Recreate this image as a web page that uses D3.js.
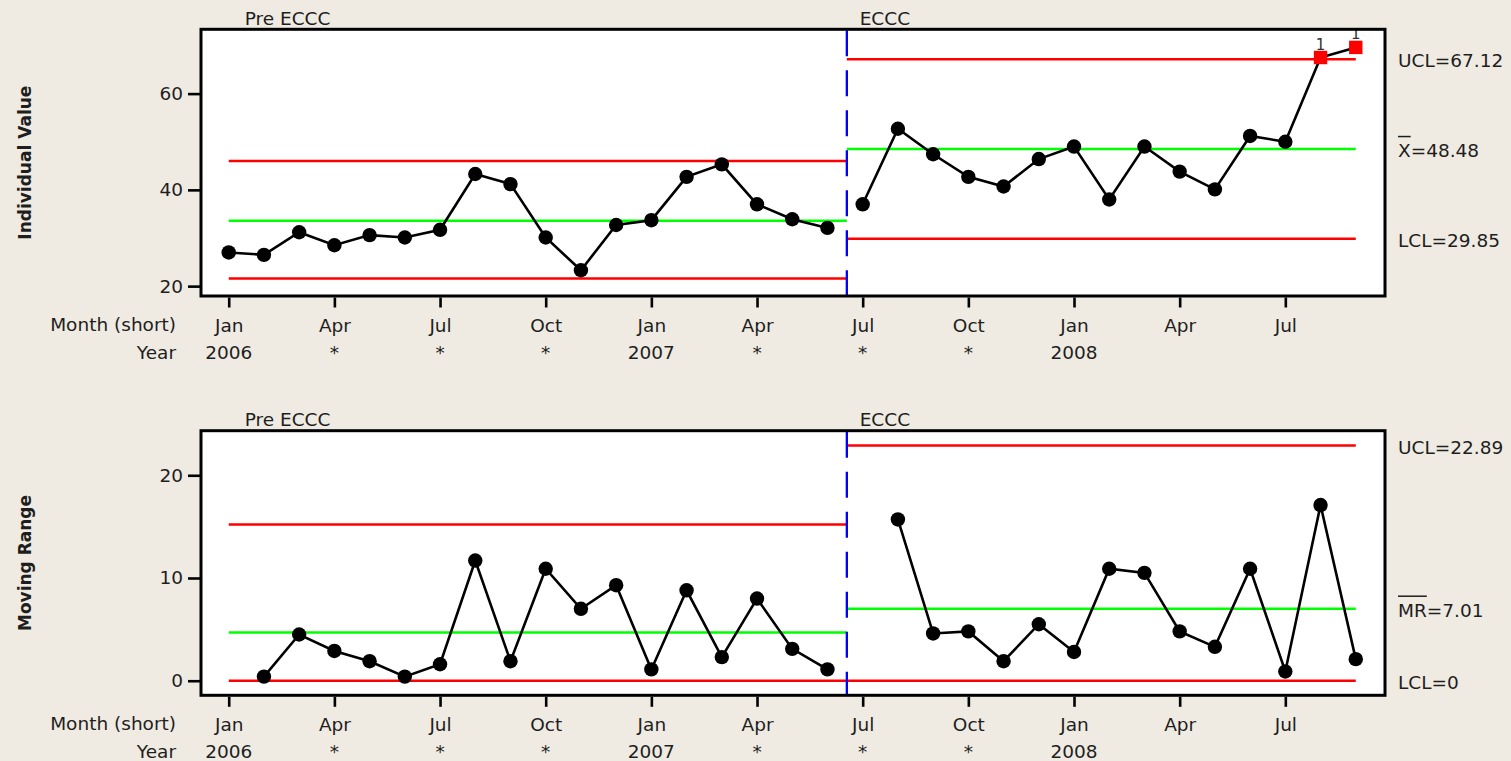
<!DOCTYPE html>
<html>
<head>
<meta charset="utf-8">
<script src="https://cdn.jsdelivr.net/npm/d3@7"></script>
<style>
  body { margin: 0; background: #efebe2; }
  text { font-family: 'DejaVu Sans', sans-serif; fill: #1e1e1e; }
</style>
</head>
<body>
<div id="chart"></div>
<script>
// Data
const monthNames = [
  'Jan', 'Feb', 'Mar', 'Apr', 'May', 'Jun', 'Jul', 'Aug', 'Sep', 'Oct', 'Nov', 'Dec',
  'Jan', 'Feb', 'Mar', 'Apr', 'May', 'Jun', 'Jul', 'Aug', 'Sep', 'Oct', 'Nov', 'Dec',
  'Jan', 'Feb', 'Mar', 'Apr', 'May', 'Jun', 'Jul', 'Aug', 'Sep'
]
const individual = [
  27.0, 26.5, 31.2, 28.5, 30.6, 30.1, 31.7, 43.3, 41.2, 30.1, 23.3, 32.7, 33.7, 42.7, 45.3, 37.0, 33.9, 32.1,
  37.0, 52.7, 47.4, 42.7, 40.7, 46.4, 49.0, 38.0, 49.0, 43.8, 40.1, 51.2, 50.0, 67.5, 69.6
]
const movingRange = [
  null, 0.4, 4.5, 2.9, 1.9, 0.4, 1.6, 11.7, 1.9, 10.9, 7.0, 9.3, 1.1, 8.8, 2.3, 8.0, 3.1, 1.1,
  null, 15.7, 4.6, 4.8, 1.9, 5.5, 2.8, 10.9, 10.5, 4.8, 3.3, 10.9, 0.9, 17.1, 2.1
]
const stageNames = ['Pre ECCC', 'ECCC']
const stageFirst = [1, 19]
const stageLast = [18, 33]
const iUCL = [46.0, 67.12]
const iCL = [33.6, 48.48]
const iLCL = [21.6, 29.85]
const mrUCL = [15.2, 22.89]
const mrCL = [4.69, 7.01]
const mrLCL = [0, 0]
const failedIndex = [32, 33]
const tickIndex = [1, 4, 7, 10, 13, 16, 19, 22, 25, 28, 31]
const tickYear = ['2006', '*', '*', '*', '2007', '*', '*', '*', '2008', '', '']

function draw() {
  const width = 1511
  const height = 761
  const fontSize = 18.5

  const svg = d3.select('#chart')
    .append('svg')
    .attr('width', width)
    .attr('height', height)

  const xScale = d3.scaleLinear()
    .domain([0.213, 33.83])
    .range([201, 1385])

  const divider = (stageLast[0] + stageFirst[1]) / 2 + 0.05

  const panels = [
    { id: 'i', values: individual, ucl: iUCL, cl: iCL, lcl: iLCL, top: 29.3, bottom: 296,
      domain: [17.95, 73.36], ticks: [20, 40, 60], title: 'Individual Value', centerName: 'X' },
    { id: 'mr', values: movingRange, ucl: mrUCL, cl: mrCL, lcl: mrLCL, top: 430.7, bottom: 695.3,
      domain: [-1.42, 24.34], ticks: [0, 10, 20], title: 'Moving Range', centerName: 'MR' }
  ]

  panels.forEach(p => {
    const yScale = d3.scaleLinear()
      .domain(p.domain)
      .range([p.bottom, p.top])

    const g = svg.append('g')
    const [left, right] = xScale.range()

    g.append('rect')
      .attr('x', left)
      .attr('y', p.top)
      .attr('width', right - left)
      .attr('height', p.bottom - p.top)
      .attr('fill', 'white')

    svg.append('clipPath')
      .attr('id', 'clip-' + p.id)
      .append('rect')
      .attr('x', left)
      .attr('y', p.top)
      .attr('width', right - left)
      .attr('height', p.bottom - p.top)

    const plot = g.append('g').attr('clip-path', `url(#clip-${p.id})`)

    // Control limits per stage
    stageNames.forEach((s, si) => {
      const x1 = si === 0 ? xScale(stageFirst[si]) : xScale(divider)
      const x2 = si === 0 ? xScale(divider) : xScale(stageLast[si])
      const lines = [
        { v: p.ucl[si], c: '#ff0000' },
        { v: p.cl[si], c: '#00ff00' },
        { v: p.lcl[si], c: '#ff0000' }
      ]
      plot.selectAll(null)
        .data(lines)
        .join('line')
        .attr('x1', x1)
        .attr('x2', x2)
        .attr('y1', d => yScale(d.v))
        .attr('y2', d => yScale(d.v))
        .attr('stroke', d => d.c)
        .attr('stroke-width', 2.5)
    })

    // Stage divider
    plot.append('line')
      .attr('x1', xScale(divider))
      .attr('x2', xScale(divider))
      .attr('y1', p.top + 1)
      .attr('y2', p.bottom)
      .attr('stroke', '#0000ff')
      .attr('stroke-width', 2.3)
      .attr('stroke-dasharray', '26,14')

    const points = p.values.map((v, i) => ({ idx: i + 1, v: v }))

    const lineGenerator = d3.line()
      .defined(d => d.v != null)
      .x(d => xScale(d.idx))
      .y(d => yScale(d.v))

    stageNames.forEach((s, si) => {
      plot.append('path')
        .datum(points.filter(d => d.idx >= stageFirst[si] && d.idx <= stageLast[si]))
        .attr('d', lineGenerator)
        .attr('fill', 'none')
        .attr('stroke', 'black')
        .attr('stroke-width', 2.6)
    })

    const valid = points.filter(d => d.v != null)
    const isFailed = d => p.id === 'i' && failedIndex.includes(d.idx)

    plot.selectAll('circle')
      .data(valid.filter(d => !isFailed(d)))
      .join('circle')
      .attr('cx', d => xScale(d.idx))
      .attr('cy', d => yScale(d.v))
      .attr('r', 7.2)
      .attr('fill', 'black')

    const failed = valid.filter(isFailed)
    plot.selectAll('rect.fail')
      .data(failed)
      .join('rect')
      .attr('class', 'fail')
      .attr('x', d => xScale(d.idx) - 6.7)
      .attr('y', d => yScale(d.v) - 6.7)
      .attr('width', 13.4)
      .attr('height', 13.4)
      .attr('fill', '#ff0000')

    plot.selectAll('text.fail')
      .data(failed)
      .join('text')
      .attr('class', 'fail')
      .attr('x', d => xScale(d.idx))
      .attr('y', d => yScale(d.v) - 8)
      .attr('text-anchor', 'middle')
      .attr('font-size', 15)
      .style('fill', '#333')
      .text('1')

    // Frame
    g.append('rect')
      .attr('x', left)
      .attr('y', p.top)
      .attr('width', right - left)
      .attr('height', p.bottom - p.top)
      .attr('fill', 'none')
      .attr('stroke', 'black')
      .attr('stroke-width', 3)

    // Y axis
    const yAxis = d3.axisLeft(yScale)
      .tickValues(p.ticks)
      .tickSize(12)
      .tickPadding(5)

    const yAxisGroup = g.append('g')
      .attr('transform', `translate(${left - 1},0)`)
      .call(yAxis)
    yAxisGroup.select('.domain').remove()
    yAxisGroup.selectAll('.tick line').attr('stroke', 'black').attr('stroke-width', 2.6)
    yAxisGroup.selectAll('.tick text')
      .attr('font-size', fontSize)
      .attr('font-family', null)
      .attr('fill', null)

    // X axis
    const xAxis = d3.axisBottom(xScale)
      .tickValues(tickIndex)
      .tickSize(10)
      .tickPadding(11)
      .tickFormat(i => monthNames[i - 1])

    const xAxisGroup = g.append('g')
      .attr('transform', `translate(0,${p.bottom + 1.5})`)
      .call(xAxis)
    xAxisGroup.select('.domain').remove()
    xAxisGroup.selectAll('.tick line').attr('stroke', 'black').attr('stroke-width', 2.6)
    xAxisGroup.selectAll('.tick text')
      .attr('font-size', fontSize)
      .attr('font-family', null)
      .attr('fill', null)

    const yearY = p.bottom + 62.5
    g.selectAll('text.year')
      .data(tickIndex)
      .join('text')
      .attr('class', 'year')
      .attr('x', d => xScale(d))
      .attr('y', yearY)
      .attr('text-anchor', 'middle')
      .attr('font-size', fontSize)
      .text((d, i) => tickYear[i])

    g.append('text')
      .attr('x', 176)
      .attr('y', p.bottom + 34.5)
      .attr('text-anchor', 'end')
      .attr('font-size', fontSize)
      .text('Month (short)')

    g.append('text')
      .attr('x', 176)
      .attr('y', yearY)
      .attr('text-anchor', 'end')
      .attr('font-size', fontSize)
      .text('Year')

    // Axis title
    g.append('text')
      .attr('transform', `translate(25,${(p.top + p.bottom) / 2}) rotate(-90)`)
      .attr('text-anchor', 'middle')
      .attr('dominant-baseline', 'central')
      .attr('font-size', 17)
      .attr('font-weight', 'bold')
      .text(p.title)

    // Stage labels
    const stageX = [xScale(stageFirst[0]) + 16, xScale(stageFirst[1]) - 3]
    g.selectAll('text.stage')
      .data(stageNames)
      .join('text')
      .attr('class', 'stage')
      .attr('x', (d, i) => stageX[i])
      .attr('y', p.top - 4.5)
      .attr('font-size', fontSize)
      .text(d => d)

    // Limit labels for the last stage
    const last = stageNames.length - 1
    const labels = [
      { name: 'UCL', v: p.ucl[last], bar: false },
      { name: p.centerName, v: p.cl[last], bar: true },
      { name: 'LCL', v: p.lcl[last], bar: false }
    ]
    labels.forEach(l => {
      const ty = yScale(l.v) + 1.5
      const t = g.append('text')
        .attr('x', 1398)
        .attr('y', ty)
        .attr('dominant-baseline', 'central')
        .attr('font-size', fontSize)
        .text(`${l.name}=${l.v}`)
      if (l.bar) {
        const w = t.node().getSubStringLength(0, l.name.length)
        g.append('line')
          .attr('x1', 1398)
          .attr('x2', 1398 + w)
          .attr('y1', ty - 14)
          .attr('y2', ty - 14)
          .attr('stroke', '#1e1e1e')
          .attr('stroke-width', 1.5)
      }
    })
  })
}

draw()
</script>
</body>
</html>
